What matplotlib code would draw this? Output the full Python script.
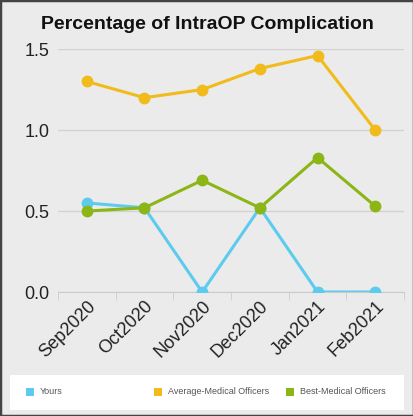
import matplotlib.pyplot as plt
from matplotlib.patches import Rectangle

months = ["Sep2020", "Oct2020", "Nov2020", "Dec2020", "Jan2021", "Feb2021"]
yours = [0.55, 0.52, 0.0, 0.52, 0.0, 0.0]
average_mo = [1.30, 1.20, 1.25, 1.38, 1.46, 1.00]
best_mo = [0.50, 0.52, 0.69, 0.52, 0.83, 0.53]

series_names = ["Yours", "Average-Medical Officers", "Best-Medical Officers"]
c_yours = "#5ccbee"
c_avg = "#f1bb1c"
c_best = "#8cb516"
bg = "#ebebeb"

plt.rcParams["font.family"] = ["Liberation Sans", "DejaVu Sans"]

fig = plt.figure(figsize=(4.14, 4.16), dpi=100, facecolor=bg)
ax = fig.add_axes([0.140, 0.298, 0.836, 0.584])
ax.set_facecolor(bg)

x = range(len(months))
for vals, col in [(yours, c_yours), (average_mo, c_avg), (best_mo, c_best)]:
    ax.plot(x, vals, color=col, lw=2.2, marker="o", ms=7.5, zorder=3)

ax.set_xlim(-0.5, len(months) - 0.5)
ax.set_ylim(0, 1.5)
ax.set_yticks([0.0, 0.5, 1.0, 1.5])
ax.set_yticklabels(["0.0", "0.5", "1.0", "1.5"], fontsize=13, color="#222222")
ax.yaxis.grid(True, color="#d2d2d2", lw=1)
ax.set_axisbelow(True)
ax.tick_params(axis="y", length=0, pad=6)

# category labels centred, boundary ticks between them
ax.set_xticks(list(x))
ax.set_xticklabels(months, rotation=45, ha="right", rotation_mode="anchor",
                   fontsize=13, color="#222222")
ax.tick_params(axis="x", length=0, pad=4)
ax.set_xticks([i - 0.5 for i in range(len(months) + 1)], minor=True)
ax.tick_params(axis="x", which="minor", length=6, color="#cccccc")

for s in ["top", "right", "left"]:
    ax.spines[s].set_visible(False)
ax.spines["bottom"].set_color("#cccccc")

fig.text(0.5, 0.942, "Percentage of IntraOP Complication", ha="center",
         va="center", fontsize=14, fontweight="bold", color="#111111")

# legend strip
fig.patches.append(Rectangle((10 / 414, 6 / 416), 394 / 414, 35 / 416,
                             transform=fig.transFigure, facecolor="white",
                             edgecolor="none", zorder=0))
legend_x = [26, 154, 286]
for lx, name, col in zip(legend_x, series_names, [c_yours, c_avg, c_best]):
    fig.patches.append(Rectangle((lx / 414, 20 / 416), 8 / 414, 8 / 416,
                                 transform=fig.transFigure, facecolor=col,
                                 edgecolor="none", zorder=1))
    fig.text((lx + 14) / 414, 24 / 416, name, ha="left", va="center",
             fontsize=6.5, color="#555555")

# outer frame
fig.patches.append(Rectangle((0, 0), 1, 1, transform=fig.transFigure,
                             facecolor="none", edgecolor="#444444", lw=2.5))

fig.savefig("out.png", dpi=100, facecolor=bg)
